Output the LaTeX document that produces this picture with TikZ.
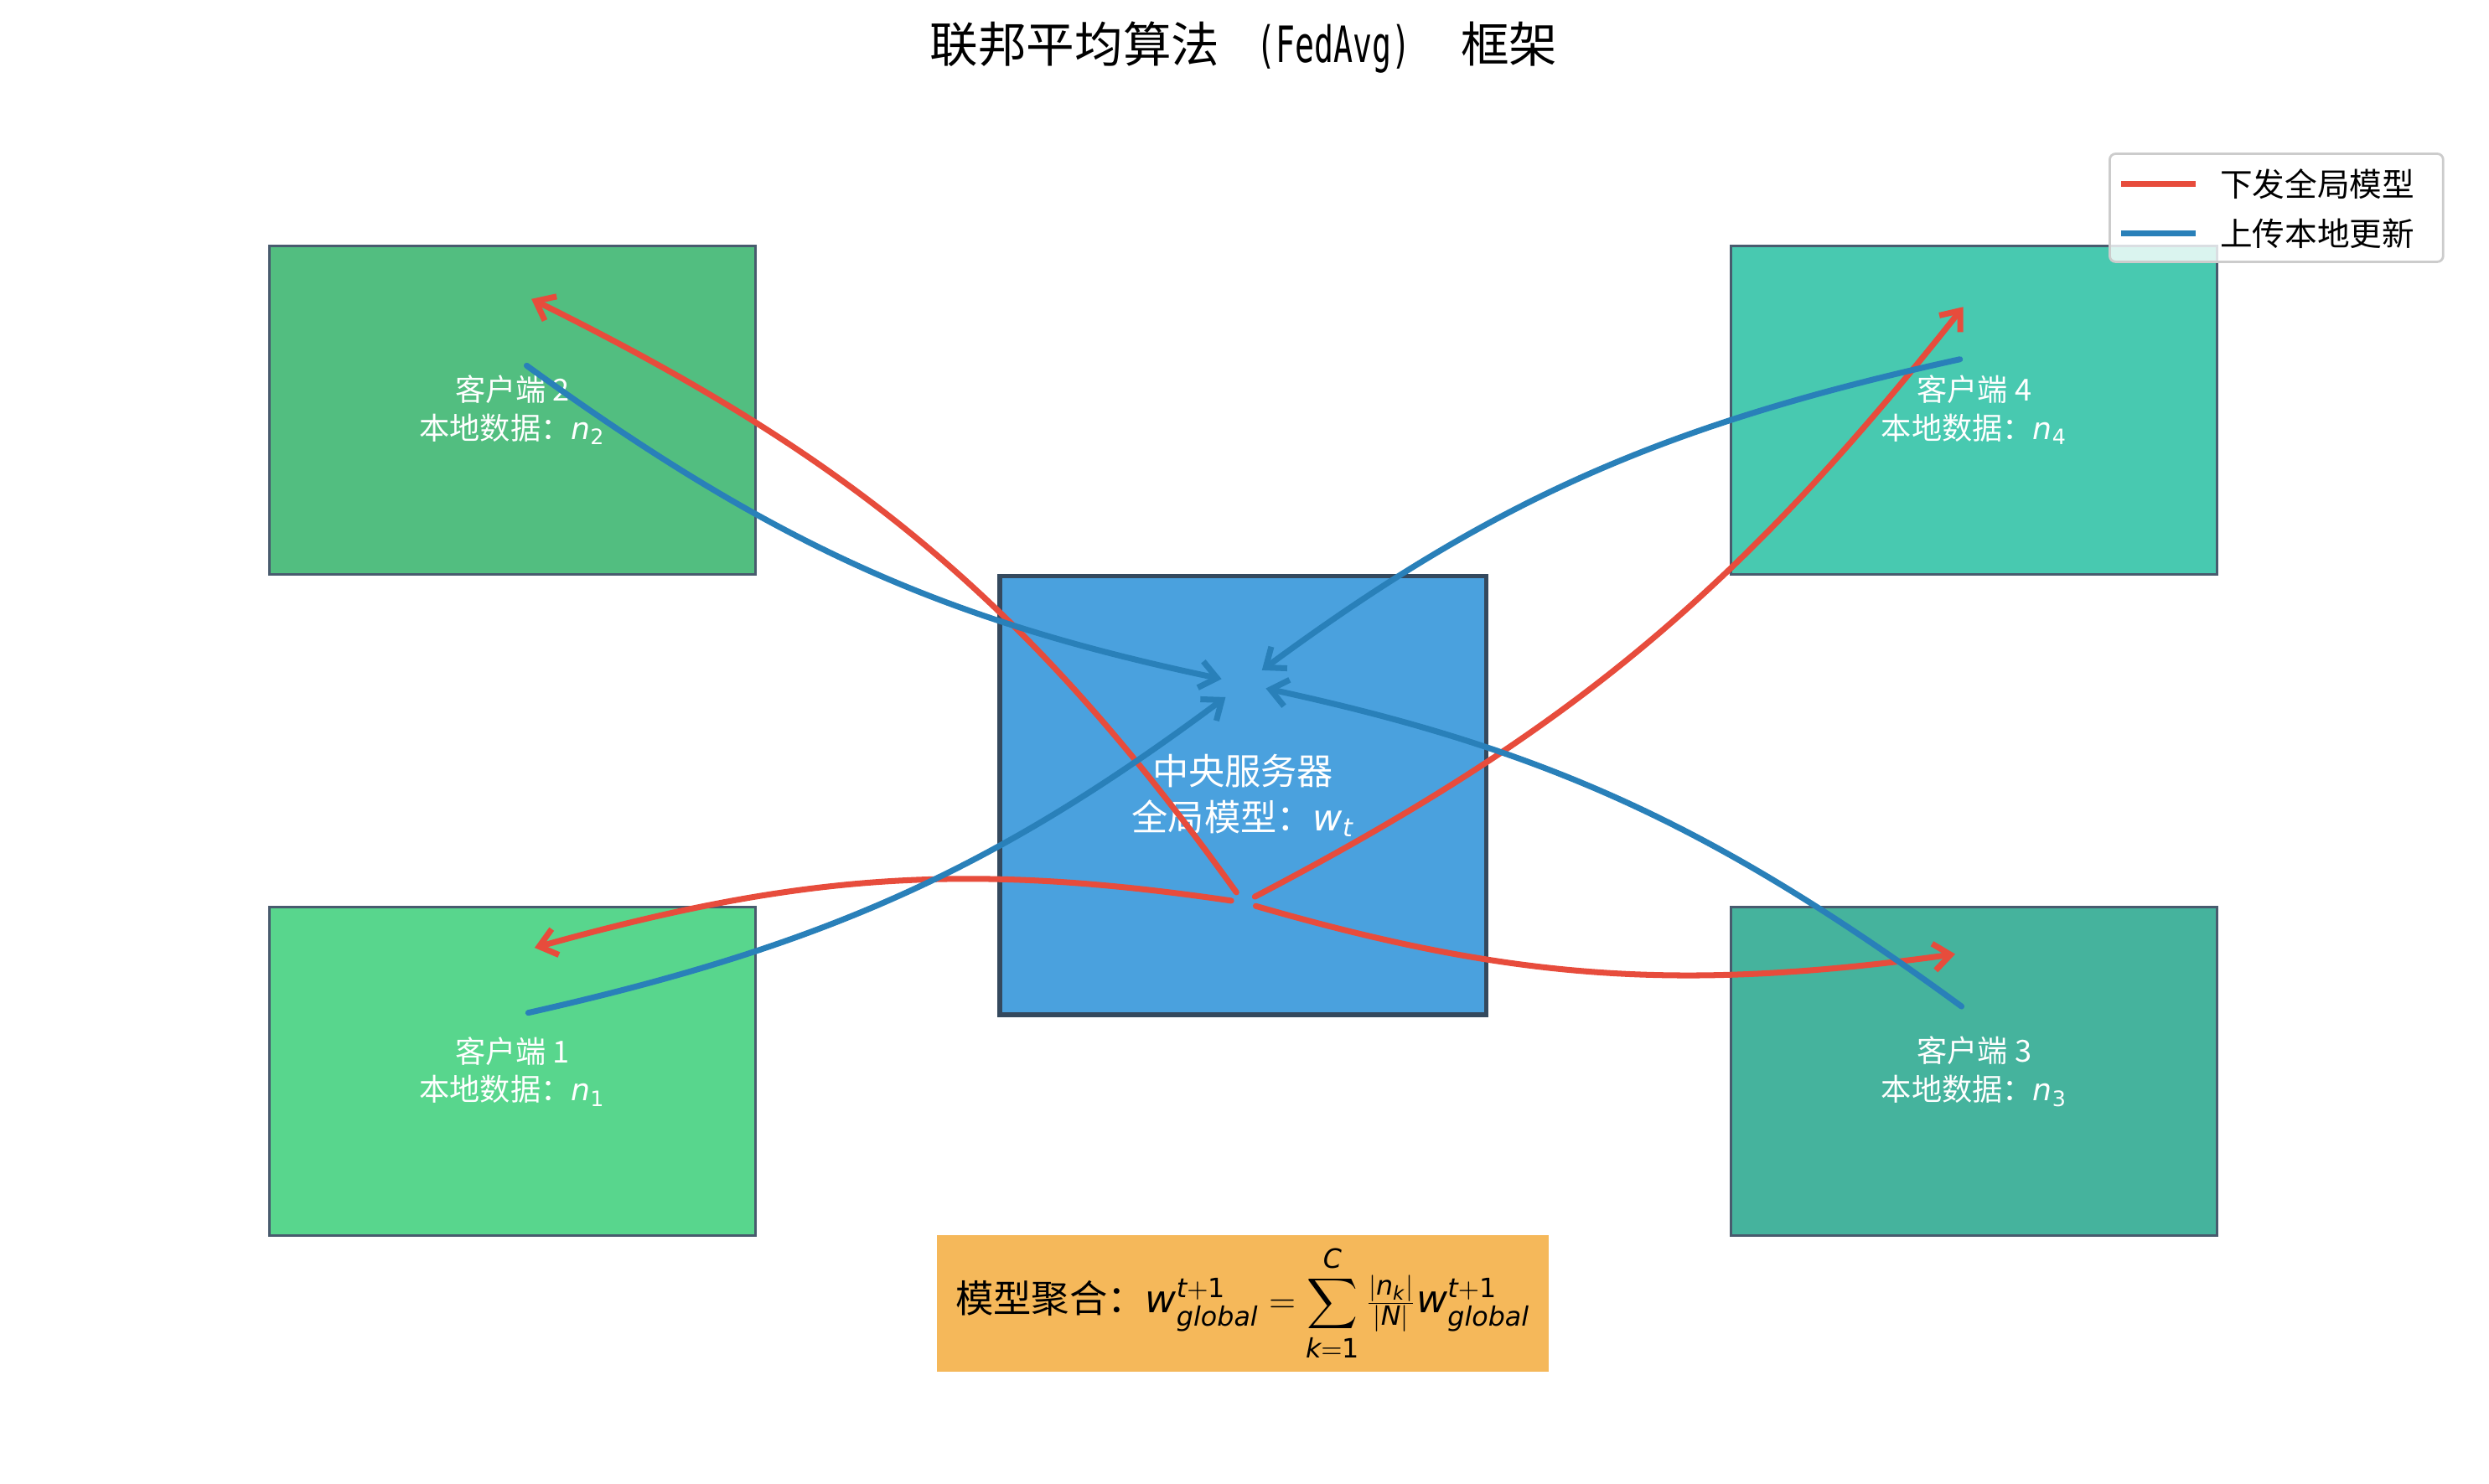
\documentclass[tikz,border=0pt]{standalone}
\usepackage{amsmath}
\usepackage{mathspec}
\usepackage{graphicx}
\setmainfont{Noto Sans CJK SC}
\setmathsfont(Digits,Latin){DejaVu Sans}
\newfontfamily\latinmono{DejaVu Sans Mono}
\usetikzlibrary{arrows.meta,calc,positioning}
\definecolor{clientone}{HTML}{58D68D}
\definecolor{clienttwo}{HTML}{52BE80}
\definecolor{clientthree}{HTML}{45B39D}
\definecolor{clientfour}{HTML}{48C9B0}
\definecolor{servercol}{HTML}{4AA1DE}
\definecolor{edgecol}{HTML}{34495E}
\definecolor{aggcol}{HTML}{F5B85A}
\definecolor{downcol}{HTML}{E74C3C}
\definecolor{upcol}{HTML}{2980B9}
\tikzset{%
	client/.style   = {draw=edgecol!90!white, line width=0.9pt, minimum width=5.80cm, minimum height=3.92cm, text=white, align=center, font=\fontsize{10.3}{13}\selectfont}, % Client box
	server/.style   = {draw=edgecol, fill=servercol, line width=1.6pt, minimum width=5.81cm, minimum height=5.24cm, text=white, align=center, font=\fontsize{12.3}{15.5}\selectfont}, % Server box
	agg/.style      = {fill=aggcol, minimum width=7.31cm, minimum height=1.63cm, font=\fontsize{12.9}{15}\selectfont}, % Aggregation formula
	down/.style     = {draw=downcol, line width=2pt, line cap=round, -{Straight Barb[length=2mm,width=3.2mm]}, bend right=12, shorten <=0.15cm}, % Download
	up/.style       = {draw=upcol, line width=2pt, line cap=round, -{Straight Barb[length=2mm,width=3.2mm]}, bend right=12, shorten >=0.27cm}, % Upload
	legendbox/.style= {draw=black!20, line width=0.8pt, rounded corners=2pt, fill=white, fill opacity=0.8, text opacity=1, minimum width=3.98cm, minimum height=1.29cm},
	legendtext/.style = {anchor=west, inner sep=0pt, font=\fontsize{11}{13}\selectfont},
}
\begin{document}
\begin{tikzpicture}[x=0.01893cm, y=-0.01893cm]
		\useasboundingbox (0,0) rectangle (1569,935.5);
		\node[font=\fontsize{16.4}{19}\selectfont] (title) at (784,30) {联邦平均算法\hspace{12.5pt}\scalebox{0.64}[1]{\latinmono\fontsize{17}{19}\selectfont(FedAvg)}\hspace{17pt}框架};
		\node[server] (srv) at (783.5,501.5) {中央服务器\\全局模型：$w_t$};
		\node[client, fill=clientone] (c1) at (323,675.5) {客户端 1\\本地数据：$n_1$};
		\node[client, fill=clienttwo] (c2) at (323,258.5) {客户端 2\\本地数据：$n_2$};
		\node[client, fill=clientthree] (c3) at (1244.5,675.5) {客户端 3\\本地数据：$n_3$};
		\node[client, fill=clientfour] (c4) at (1244.5,258.5) {客户端 4\\本地数据：$n_4$};
		\node[agg, below of=srv, node distance=6.06cm] (agg) {模型聚合：$w_{global}^{t+1}=\displaystyle\sum_{k=1}^{C}\tfrac{|n_k|}{|N|}w_{global}^{t+1}$};
		% hubs and client ends
		\coordinate (hubdown) at (784,569);
		\coordinate (hubup) at (784,431);
		\coordinate (c1r) at ($(c1)+(14,-78)$);
		\coordinate (c1s) at ($(c1)+(10,-37)$);
		\coordinate (c2r) at ($(c2)+(12,-70)$);
		\coordinate (c2s) at ($(c2)+(9,-28)$);
		\coordinate (c3r) at ($(c3)+(-12,-74)$);
		\coordinate (c3s) at ($(c3)+(-8,-41)$);
		\coordinate (c4r) at ($(c4)+(-7,-65)$);
		\coordinate (c4s) at ($(c4)+(-9,-32)$);
		\draw[down] (hubdown) to (c1r);
		\draw[down, bend right=14] (hubdown) to (c2r);
		\draw[down] (hubdown) to (c3r);
		\draw[down] (hubdown) to (c4r);
		\draw[up] (c1s) to (hubup);
		\draw[up] (c2s) to (hubup);
		\draw[up] (c3s) to (hubup);
		\draw[up] (c4s) to (hubup);
		% legend
		\node[legendbox] (legend) at (1435,131) {};
		\draw[downcol, line width=2pt] ($(legend.north west)+(8,20)$) -- ++(47,0) coordinate (kdown);
		\draw[upcol, line width=2pt] ($(legend.north west)+(8,51)$) -- ++(47,0) coordinate (kup);
		\node[legendtext] at ($(kdown)+(15,0)$) {下发全局模型};
		\node[legendtext] at ($(kup)+(15,0)$) {上传本地更新};
\end{tikzpicture}
\end{document}
